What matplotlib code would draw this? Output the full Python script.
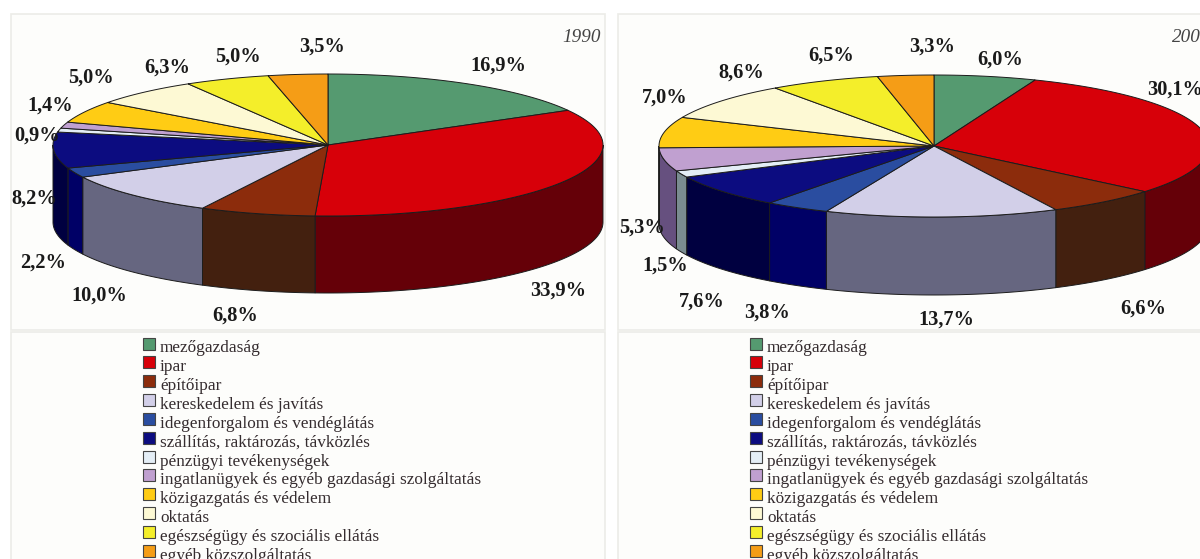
import numpy as np
import matplotlib
matplotlib.use("Agg")
import matplotlib.pyplot as plt
from matplotlib.patches import Polygon, Rectangle

categories = ["mezőgazdaság", "ipar", "építőipar", "kereskedelem és javítás",
              "idegenforgalom és vendéglátás", "szállítás, raktározás, távközlés",
              "pénzügyi tevékenységek", "ingatlanügyek és egyéb gazdasági szolgáltatás",
              "közigazgatás és védelem", "oktatás", "egészségügy és szociális ellátás",
              "egyéb közszolgáltatás"]
values_1990 = [16.9, 33.9, 6.8, 10.0, 2.2, 8.2, 0.9, 1.4, 5.0, 6.3, 5.0, 3.5]
values_2000 = [6.0, 30.1, 6.6, 13.7, 3.8, 7.6, 1.5, 5.3, 7.0, 8.6, 6.5, 3.3]

top_colors = ["#559a70", "#d70009", "#8c2c0c", "#d2cfe8", "#2a4da0", "#0c0c80",
              "#e4eef6", "#c0a0d0", "#ffcc14", "#fdf9d4", "#f4ee2a", "#f59d16"]
side_colors = ["#2f5a40", "#650008", "#43200f", "#666680", "#000066", "#000040",
               "#7a8c90", "#66507f", "#8f7208", "#8f8c70", "#8f8a10", "#8f5a08"]

# label centres in pixels, same order as the values
label_pos_1990 = [(498, 66), (558, 291), (235, 316), (99, 296), (43, 263), (34, 199),
                  (37, 136), (50, 106), (91, 78), (167, 68), (238, 57), (322, 47)]
label_pos_2000 = [(1000, 60), (1175, 90), (1143, 309), (946, 320), (767, 313), (702, 302),
                  (665, 266), (642, 228), (665, 98), (741, 73), (831, 56), (932, 47)]

EDGE = "#1c1c1c"
RX, RY = 275, 71


def draw_pie(ax, cx, cy, depth, values, label_pos):
    edges = np.cumsum([0] + values) / sum(values) * 2 * np.pi

    # side wall, only the part facing the viewer
    for i in range(len(values)):
        a = max(edges[i], np.pi / 2)
        b = min(edges[i + 1], 3 * np.pi / 2)
        if b <= a:
            continue
        t = np.linspace(a, b, 100)
        x = cx + RX * np.sin(t)
        y = cy - RY * np.cos(t)
        pts = np.column_stack([np.r_[x, x[::-1]], np.r_[y, y[::-1] + depth]])
        ax.add_patch(Polygon(pts, fc=side_colors[i], ec=EDGE, lw=0.7, zorder=3))

    # top surface
    for i in range(len(values)):
        t = np.linspace(edges[i], edges[i + 1], 100)
        x = np.r_[cx, cx + RX * np.sin(t)]
        y = np.r_[cy, cy - RY * np.cos(t)]
        ax.add_patch(Polygon(np.column_stack([x, y]), fc=top_colors[i], ec=EDGE, lw=0.7, zorder=4))

    for v, (lx, ly) in zip(values, label_pos):
        ax.text(lx, ly, f"{v:.1f}".replace(".", ",") + "%", ha="center", va="center",
                fontsize=14.7, fontweight="bold", family="Liberation Serif", color="#1a1a1a", zorder=6)


def draw_legend(ax, x0):
    for i, name in enumerate(categories):
        y = 343.5 + i * 18.85
        ax.add_patch(Rectangle((x0, y - 6), 12, 12, fc=top_colors[i], ec="#444444", lw=0.8, zorder=3))
        ax.text(x0 + 17, y + 5, name, ha="left", va="center", fontsize=12.4,
                family="Liberation Serif", color="#352c2f", zorder=3)


def draw_panels(ax, x0, x1):
    for y0, y1 in [(14, 330), (332, 575)]:
        ax.add_patch(Rectangle((x0, y0), x1 - x0, y1 - y0, fc="#fdfdfb", ec="#ecece8", lw=1.2, zorder=1))


fig = plt.figure(figsize=(12, 5.59), dpi=100)
ax = fig.add_axes([0, 0, 1, 1])
ax.set_xlim(0, 1200)
ax.set_ylim(559, 0)
ax.axis("off")

draw_panels(ax, 11, 605)
draw_panels(ax, 618, 1215)

draw_pie(ax, 328, 145, 77, values_1990, label_pos_1990)
draw_pie(ax, 934, 146, 78, values_2000, label_pos_2000)

draw_legend(ax, 143)
draw_legend(ax, 750)

ax.text(601, 38, "1990", ha="right", va="center", fontsize=13.8, style="italic",
        family="Liberation Serif", color="#444444", zorder=6)
ax.text(1172, 38, "2000", ha="left", va="center", fontsize=13.8, style="italic",
        family="Liberation Serif", color="#444444", zorder=6)

fig.savefig("out.png", dpi=100)
